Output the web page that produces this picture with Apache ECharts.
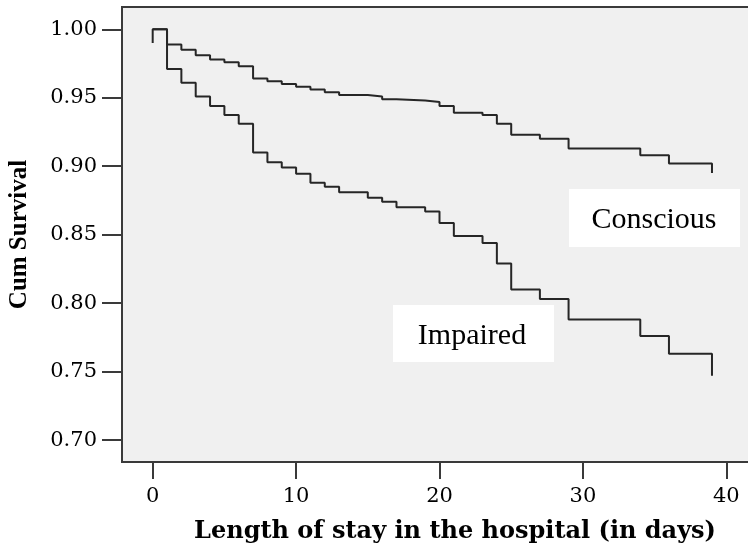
<!DOCTYPE html>
<html>
<head>
<meta charset="utf-8">
<script src="https://cdn.jsdelivr.net/npm/echarts@6/dist/echarts.min.js"></script>
<style>
  html, body { margin: 0; padding: 0; background: #fff; }
  #chart { width: 748px; height: 548px; }
</style>
</head>
<body>
<div id="chart"></div>
<script>
// Kaplan-Meier steps: day of event, survival after event
const consciousDays = [0, 1, 2, 3, 4, 5, 6, 7, 8, 9, 10, 11, 12, 13, 15, 16, 17, 19, 20, 21, 23, 24, 25, 27, 29, 34, 36, 39];
const consciousSurv = [1.000, 0.989, 0.985, 0.981, 0.978, 0.976, 0.973, 0.964, 0.962, 0.960, 0.958, 0.956, 0.954, 0.952, 0.951, 0.949, 0.948, 0.947, 0.944, 0.939, 0.9375, 0.931, 0.923, 0.920, 0.913, 0.908, 0.902, 0.895];

const impairedDays = [0, 0, 1, 2, 3, 4, 5, 6, 7, 8, 9, 10, 11, 12, 13, 15, 16, 17, 19, 20, 21, 23, 24, 25, 27, 29, 34, 36, 39];
const impairedSurv = [0.990, 1.000, 0.971, 0.961, 0.951, 0.944, 0.9375, 0.931, 0.910, 0.903, 0.899, 0.8945, 0.888, 0.885, 0.881, 0.877, 0.874, 0.870, 0.867, 0.8585, 0.849, 0.844, 0.829, 0.810, 0.803, 0.788, 0.776, 0.763, 0.747];

const xTicks = [0, 10, 20, 30, 40];
const yTicks = [0.70, 0.75, 0.80, 0.85, 0.90, 0.95, 1.00];

const chart = echarts.init(document.getElementById("chart"));
const lineCol = "#262626";
const axisCol = "#3a3a3a";

const zip = (a, b) => a.map((d, i) => [d, b[i]]);

chart.setOption({
  animation: false,
  grid: {
    left: 122, top: 7, right: -7, bottom: 86,
    outerBoundsMode: "none",
    show: true, backgroundColor: "#f0f0f0",
    borderColor: axisCol, borderWidth: 2
  },
  xAxis: {
    type: "value", min: -2.14, max: 42,
    name: "Length of stay in the hospital (in days)",
    nameLocation: "middle", nameGap: 58,
    nameTextStyle: { fontFamily: "DejaVu Serif", fontWeight: "bold", fontSize: 24, color: "#000", padding: [0, 0, 0, 33] },
    axisLine: { onZero: false, lineStyle: { color: axisCol, width: 2 } },
    axisTick: { customValues: xTicks, length: 17, lineStyle: { color: axisCol, width: 2 } },
    axisLabel: { customValues: xTicks, margin: 24, fontFamily: "DejaVu Serif", fontSize: 21, color: "#000" },
    splitLine: { show: false }
  },
  yAxis: {
    type: "value", min: 0.684, max: 1.0163,
    name: "Cum Survival",
    nameLocation: "middle", nameGap: 90,
    nameTextStyle: { fontFamily: "Liberation Serif", fontWeight: "bold", fontSize: 25, color: "#000" },
    axisLine: { onZero: false, lineStyle: { color: axisCol, width: 2 } },
    axisTick: { customValues: yTicks, length: 20, lineStyle: { color: axisCol, width: 2 } },
    axisLabel: { customValues: yTicks, margin: 25, fontFamily: "DejaVu Serif", fontSize: 21, color: "#000",
      formatter: v => v.toFixed(2) },
    splitLine: { show: false }
  },
  series: [
    { name: "Conscious", type: "line", step: "end", showSymbol: false,
      data: zip(consciousDays, consciousSurv), lineStyle: { color: lineCol, width: 2 } },
    { name: "Impaired", type: "line", step: "end", showSymbol: false,
      data: zip(impairedDays, impairedSurv), lineStyle: { color: lineCol, width: 2 } }
  ],
  graphic: [
    { type: "rect", shape: { x: 569, y: 189, width: 171, height: 58 }, style: { fill: "#fff" }, z: 10 },
    { type: "text", x: 654, y: 220, z: 11,
      style: { text: "Conscious", fontFamily: "Liberation Serif", fontSize: 30, fill: "#000", align: "center", verticalAlign: "middle" } },
    { type: "rect", shape: { x: 393, y: 305, width: 161, height: 57 }, style: { fill: "#fff" }, z: 10 },
    { type: "text", x: 472, y: 336, z: 11,
      style: { text: "Impaired", fontFamily: "Liberation Serif", fontSize: 30, fill: "#000", align: "center", verticalAlign: "middle" } }
  ]
});

window.addEventListener("resize", () => chart.resize());
</script>
</body>
</html>
